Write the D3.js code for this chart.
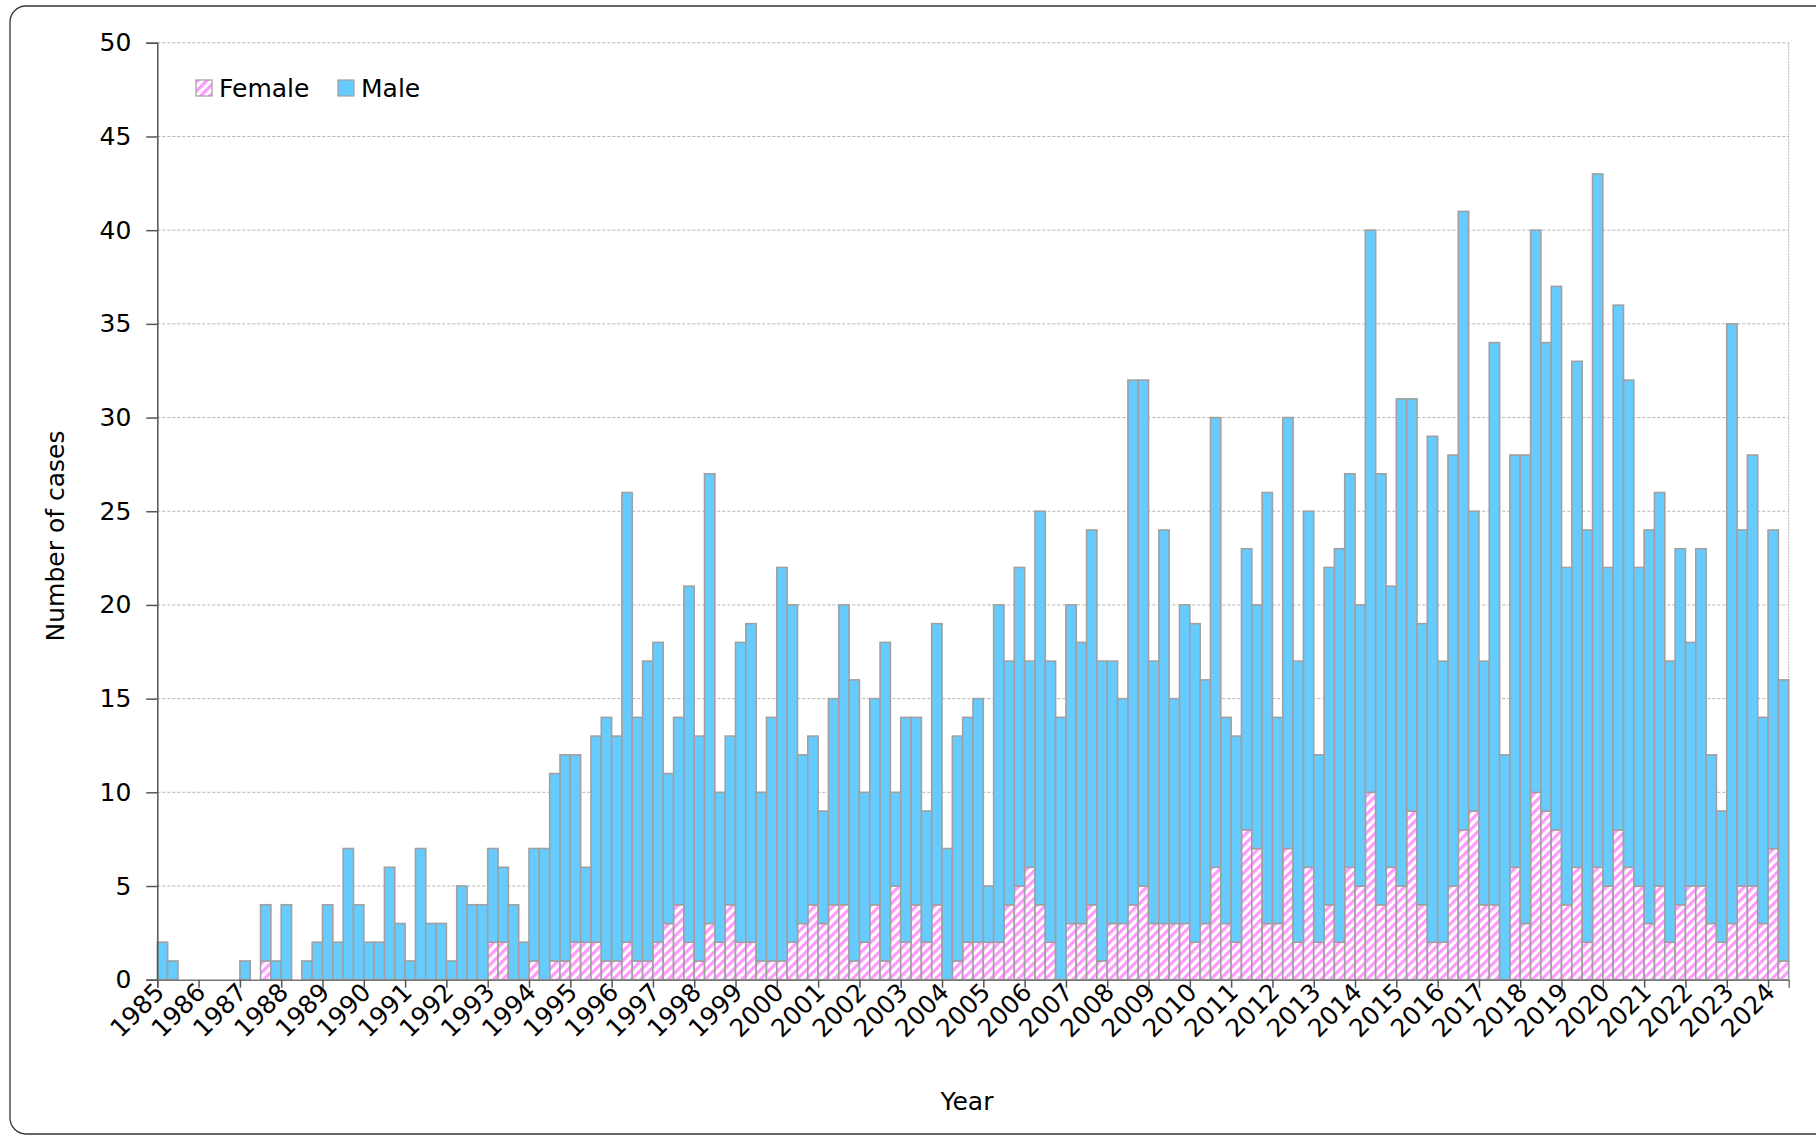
<!DOCTYPE html>
<html>
<head>
<meta charset="utf-8">
<script src="https://cdn.jsdelivr.net/npm/d3@7"></script>
<style>
  body { margin: 0; background: #fff; }
  svg { display: block; font-family: "DejaVu Sans", Verdana, sans-serif; }
</style>
</head>
<body>
<script>
// one tick label per year, four quarterly bars per year (last year has two)
const years = [
  "1985", "1986", "1987", "1988", "1989", "1990", "1991", "1992", "1993", "1994",
  "1995", "1996", "1997", "1998", "1999", "2000", "2001", "2002", "2003", "2004",
  "2005", "2006", "2007", "2008", "2009", "2010", "2011", "2012", "2013", "2014",
  "2015", "2016", "2017", "2018", "2019", "2020", "2021", "2022", "2023", "2024"
];

// total cases per quarter
const totalCases = [
  2, 1, 0, 0,      0, 0, 0, 0,      1, 0, 4, 1,      4, 0, 1, 2,
  4, 2, 7, 4,      2, 2, 6, 3,      1, 7, 3, 3,      1, 5, 4, 4,
  7, 6, 4, 2,      7, 7, 11, 12,    12, 6, 13, 14,   13, 26, 14, 17,
  18, 11, 14, 21,  13, 27, 10, 13,  18, 19, 10, 14,  22, 20, 12, 13,
  9, 15, 20, 16,   10, 15, 18, 10,  14, 14, 9, 19,   7, 13, 14, 15,
  5, 20, 17, 22,   17, 25, 17, 14,  20, 18, 24, 17,  17, 15, 32, 32,
  17, 24, 15, 20,  19, 16, 30, 14,  13, 23, 20, 26,  14, 30, 17, 25,
  12, 22, 23, 27,  20, 40, 27, 21,  31, 31, 19, 29,  17, 28, 41, 25,
  17, 34, 12, 28,  28, 40, 34, 37,  22, 33, 24, 43,  22, 36, 32, 22,
  24, 26, 17, 23,  18, 23, 12, 9,   35, 24, 28, 14,  24, 16
];

// female cases per quarter (bottom, hatched part of each bar)
const femaleCases = [
  0, 0, 0, 0,  0, 0, 0, 0,  0, 0, 1, 0,  0, 0, 0, 0,
  0, 0, 0, 0,  0, 0, 0, 0,  0, 0, 0, 0,  0, 0, 0, 0,
  2, 2, 0, 0,  1, 0, 1, 1,  2, 2, 2, 1,  1, 2, 1, 1,
  2, 3, 4, 2,  1, 3, 2, 4,  2, 2, 1, 1,  1, 2, 3, 4,
  3, 4, 4, 1,  2, 4, 1, 5,  2, 4, 2, 4,  0, 1, 2, 2,
  2, 2, 4, 5,  6, 4, 2, 0,  3, 3, 4, 1,  3, 3, 4, 5,
  3, 3, 3, 3,  2, 3, 6, 3,  2, 8, 7, 3,  3, 7, 2, 6,
  2, 4, 2, 6,  5, 10, 4, 6, 5, 9, 4, 2,  2, 5, 8, 9,
  4, 4, 0, 6,  3, 10, 9, 8, 4, 6, 2, 6,  5, 8, 6, 5,
  3, 5, 2, 4,  5, 5, 3, 2,  3, 5, 5, 3,  7, 1
];

const seriesNames = ["Female", "Male"];
const yTicks = [0, 5, 10, 15, 20, 25, 30, 35, 40, 45, 50];

const width = 1816, height = 1136;
const plot = { left: 157.3, right: 1788.7, top: 42.8, bottom: 979.7 };
const maleColor = "#66ccff";
const pinkColor = "#ff99ff";
const barStroke = "#a0a0a0";
const fontSize = 25;

let rows = totalCases.map((t, i) => {
    return {
        key: years[Math.floor(i / 4)] + "-Q" + (i % 4 + 1),
        Female: femaleCases[i],
        Male: t - femaleCases[i]
    }
});

let svg = d3.select("body").append("svg").attr("width", width).attr("height", height);

let defs = svg.append("defs");
let hatch = defs.append("pattern")
    .attr("id", "hatch")
    .attr("patternUnits", "userSpaceOnUse")
    .attr("width", 6.5)
    .attr("height", 6.5)
    .attr("patternTransform", "rotate(45)");
hatch.append("rect").attr("width", 6.5).attr("height", 6.5).attr("fill", "#fff");
hatch.append("rect").attr("x", 0).attr("width", 3.2).attr("height", 6.5).attr("fill", pinkColor);

// outer frame
svg.append("rect")
    .attr("x", 10).attr("y", 6)
    .attr("width", 1840).attr("height", 1128)
    .attr("rx", 16)
    .attr("fill", "none")
    .attr("stroke", "#333")
    .attr("stroke-width", 1.3);

let x = d3.scaleBand(rows.map(d => d.key), [plot.left, plot.right]).padding(0);
let xYear = d3.scaleLinear([0, rows.length / 4], [plot.left, plot.right]);
let y = d3.scaleLinear([0, 50], [plot.bottom, plot.top]);

// grid
svg.append("g").selectAll("line.grid").data(yTicks.filter(v => v > 0))
    .enter().append("line")
    .attr("class", "grid")
    .attr("x1", plot.left).attr("x2", plot.right)
    .attr("y1", d => y(d)).attr("y2", d => y(d))
    .attr("stroke", "#b4b4b4")
    .attr("stroke-width", 1)
    .attr("stroke-dasharray", "3,2");
svg.append("line")
    .attr("x1", plot.right).attr("x2", plot.right)
    .attr("y1", plot.top).attr("y2", plot.bottom)
    .attr("stroke", "#b4b4b4")
    .attr("stroke-dasharray", "2,1");

// bars
let stacked = d3.stack().keys(seriesNames)(rows);
let fills = { Female: "url(#hatch)", Male: maleColor };

svg.append("g").selectAll("g.series").data(stacked)
    .enter().append("g")
    .attr("class", "series")
    .attr("fill", s => fills[s.key])
    .selectAll("rect").data(s => s.filter(d => d[1] > d[0]))
    .enter().append("rect")
    .attr("x", d => x(d.data.key))
    .attr("width", x.bandwidth())
    .attr("y", d => y(d[1]))
    .attr("height", d => y(d[0]) - y(d[1]))
    .attr("stroke", barStroke)
    .attr("stroke-width", 1.6);

// y axis
let yAxis = svg.append("g")
    .attr("transform", `translate(${plot.left},0)`)
    .call(d3.axisLeft(y).tickValues(yTicks).tickSize(11).tickPadding(15));
yAxis.select(".domain").attr("stroke", "#555").attr("stroke-width", 1.5);
yAxis.selectAll(".tick line").attr("stroke", "#555").attr("stroke-width", 1.5);
yAxis.selectAll("text")
    .attr("font-size", fontSize)
    .attr("font-family", "DejaVu Sans, Verdana, sans-serif")
    .attr("fill", "#000");

// x axis, one tick per year boundary
let xAxis = svg.append("g")
    .attr("transform", `translate(0,${plot.bottom})`)
    .call(d3.axisBottom(xYear).tickValues(d3.range(years.length)).tickSize(8).tickFormat(i => years[i]));
xAxis.select(".domain").attr("stroke", "#777").attr("stroke-width", 1.5);
xAxis.selectAll(".tick line").attr("stroke", "#555").attr("stroke-width", 1.5);
xAxis.selectAll("text")
    .attr("font-size", fontSize)
    .attr("font-family", "DejaVu Sans, Verdana, sans-serif")
    .attr("fill", "#000")
    .attr("y", 0).attr("dy", 0)
    .attr("text-anchor", "end")
    .attr("transform", "translate(8,14) rotate(-45)");

// axis titles
svg.append("text")
    .attr("x", 967).attr("y", 1110)
    .attr("text-anchor", "middle")
    .attr("font-size", fontSize)
    .text("Year");
svg.append("text")
    .attr("transform", "translate(64,536) rotate(-90)")
    .attr("text-anchor", "middle")
    .attr("font-size", fontSize)
    .text("Number of cases");

// legend
let legend = svg.append("g").selectAll("g.legend").data(seriesNames)
    .enter().append("g")
    .attr("class", "legend")
    .attr("transform", (d, i) => `translate(${[196, 338][i]},80)`);
legend.append("rect")
    .attr("width", 16).attr("height", 16)
    .attr("fill", d => fills[d])
    .attr("stroke", barStroke)
    .attr("stroke-width", 1.2);
legend.append("text")
    .attr("x", 23).attr("y", 17)
    .attr("font-size", fontSize)
    .text(d => d);
</script>
</body>
</html>
